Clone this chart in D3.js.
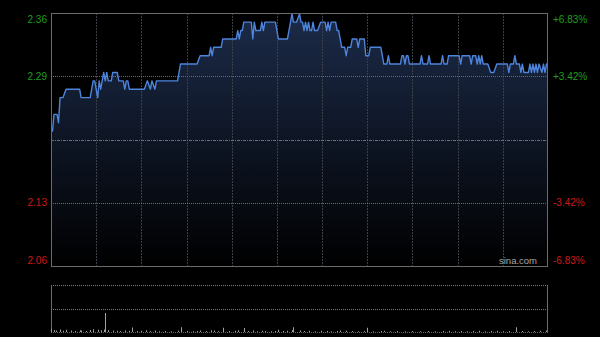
<!DOCTYPE html>
<html>
<head>
<meta charset="utf-8">
<script src="https://cdn.jsdelivr.net/npm/d3@7"></script>
<style>
  body { margin: 0; background: #000; }
  svg { display: block; }
</style>
</head>
<body>
<div id="chart"></div>
<script>
// minutes since 09:30 (HK session, 330 trading minutes) and last price
var minutes = [0, 1, 2, 4, 5, 6, 8, 10, 19, 20, 26, 28, 29, 31, 32, 33, 35, 36, 37, 38, 40, 41, 44, 45, 48, 49, 50, 51, 52, 62,
    64, 66, 67, 69, 70, 84, 86, 97, 99, 105, 106, 107, 108, 113, 114, 123, 124, 125, 126, 127, 128, 133, 134, 135, 136, 139, 140, 141, 142, 149,
    151, 157, 158, 160, 161, 163, 165, 166, 167, 168, 169, 170, 171, 172, 173, 174, 175, 177, 179, 182, 183, 184, 185, 186, 189, 190, 191, 192, 193, 195,
    196, 197, 199, 200, 203, 204, 205, 208, 209, 211, 212, 219, 220, 221, 223, 224, 225, 232, 233, 234, 235, 236, 237, 238, 245, 246, 247, 250, 251, 252,
    259, 260, 261, 263, 264, 271, 272, 273, 278, 279, 280, 282, 283, 284, 285, 286, 287, 290, 292, 294, 296, 303, 304, 305, 307, 308, 309, 311, 312, 313,
    314, 317, 318, 319, 320, 321, 322, 323, 324, 326, 327, 328, 329, 330];
var prices = [2.22, 2.22, 2.24, 2.24, 2.23, 2.26, 2.26, 2.27, 2.27, 2.26, 2.26, 2.28, 2.28, 2.26, 2.28, 2.27, 2.29, 2.28, 2.29, 2.28, 2.28, 2.29, 2.29, 2.28, 2.28, 2.27, 2.28, 2.28, 2.27, 2.27,
    2.28, 2.27, 2.28, 2.27, 2.28, 2.28, 2.30, 2.30, 2.31, 2.31, 2.32, 2.31, 2.32, 2.32, 2.33, 2.33, 2.34, 2.33, 2.34, 2.34, 2.35, 2.35, 2.33, 2.35, 2.34, 2.34, 2.35, 2.34, 2.35, 2.35,
    2.33, 2.33, 2.34, 2.36, 2.35, 2.35, 2.36, 2.35, 2.35, 2.34, 2.35, 2.34, 2.35, 2.34, 2.34, 2.35, 2.34, 2.34, 2.35, 2.35, 2.34, 2.35, 2.34, 2.35, 2.35, 2.34, 2.34, 2.33, 2.32, 2.32,
    2.31, 2.32, 2.32, 2.33, 2.33, 2.32, 2.33, 2.33, 2.31, 2.31, 2.32, 2.32, 2.31, 2.30, 2.30, 2.31, 2.30, 2.30, 2.31, 2.31, 2.30, 2.31, 2.31, 2.30, 2.30, 2.31, 2.30, 2.30, 2.31, 2.30,
    2.30, 2.31, 2.30, 2.30, 2.31, 2.31, 2.30, 2.31, 2.31, 2.30, 2.31, 2.31, 2.30, 2.31, 2.30, 2.31, 2.30, 2.30, 2.29, 2.29, 2.30, 2.30, 2.29, 2.30, 2.30, 2.31, 2.30, 2.30, 2.29, 2.30,
    2.29, 2.29, 2.30, 2.29, 2.30, 2.29, 2.30, 2.29, 2.30, 2.29, 2.30, 2.29, 2.30, 2.30];

// volume, thousand shares
var volMinutes = [0, 2, 3, 6, 8, 10, 13, 16, 19, 20, 23, 26, 28, 31, 33, 35, 36, 38, 41, 44, 46, 49, 52, 54, 57, 60, 63, 66, 69, 72,
    76, 80, 84, 86, 90, 94, 97, 99, 103, 106, 108, 111, 114, 118, 122, 124, 128, 131, 134, 137, 140, 142, 146, 149, 151, 154, 157, 160, 161, 165,
    168, 171, 175, 179, 183, 186, 190, 192, 196, 200, 204, 208, 210, 214, 219, 221, 225, 230, 235, 240, 245, 250, 255, 260, 264, 268, 272, 276, 280, 284,
    288, 292, 296, 300, 304, 309, 313, 317, 321, 325, 329];
var volumes = [60, 40, 30, 50, 25, 45, 30, 20, 35, 30, 20, 40, 55, 45, 35, 50, 380, 40, 30, 25, 20, 30, 25, 90, 20, 25, 35, 20, 30, 15,
    20, 15, 25, 95, 20, 15, 20, 30, 20, 35, 30, 15, 85, 20, 25, 35, 80, 20, 30, 15, 25, 20, 15, 20, 45, 20, 25, 40, 95, 30,
    20, 25, 15, 25, 20, 15, 20, 30, 25, 20, 15, 20, 85, 15, 20, 25, 15, 20, 15, 20, 15, 20, 15, 20, 25, 15, 20, 15, 20, 25,
    15, 20, 25, 15, 20, 95, 20, 15, 20, 25, 30];

var prevClose = 2.21;
var pctTicks = [0.0683, 0.0342, -0.0342, -0.0683];
var priceLabels = ["2.36", "2.29", "2.13", "2.06"];
var pctLabels = ["+6.83%", "+3.42%", "-3.42%", "-6.83%"];
var gridMinutes = [30, 60, 90, 120, 150, 180, 210, 240, 270, 300];

var svgWidth = 600;
var svgHeight = 337;
var left = 51, right = 548;
var top1 = 13, bottom1 = 266;
var top2 = 285, bottom2 = 332;
var green = "#1f9e1f", red = "#d01818";
var font = "Arial, 'Liberation Sans', sans-serif";

var svg = d3.select("#chart")
    .append("svg")
    .attr("width", svgWidth)
    .attr("height", svgHeight);

svg.append("rect").attr("width", svgWidth).attr("height", svgHeight).attr("fill", "#000");

var x = d3.scaleLinear().domain([0, 330]).range([left, right]);
var y = d3.scaleLinear()
    .domain([prevClose * (1 - 0.0683), prevClose * (1 + 0.0683)])
    .range([bottom1, top1]);
var yVol = d3.scaleLinear().domain([0, 940]).range([bottom2, top2]);

var defs = svg.append("defs");
var grad = defs.append("linearGradient")
    .attr("id", "areaFill")
    .attr("gradientUnits", "userSpaceOnUse")
    .attr("x1", 0).attr("y1", top1).attr("x2", 0).attr("y2", bottom1);
grad.append("stop").attr("offset", "0%").attr("stop-color", "#1c2b49");
grad.append("stop").attr("offset", "100%").attr("stop-color", "#000");

var pts = minutes.map(function(m, i) { return { t: m, p: prices[i] }; });

// area under price line
var area = d3.area()
    .x(d => x(d.t))
    .y0(bottom1)
    .y1(d => Math.max(y(d.p), top1 + 1));
svg.append("path")
    .datum(pts)
    .attr("d", area)
    .attr("fill", "url(#areaFill)");

// vertical grid
svg.append("g")
    .selectAll("line")
    .data(gridMinutes)
    .enter()
    .append("line")
    .attr("x1", d => Math.round(x(d)) + 0.5)
    .attr("x2", d => Math.round(x(d)) + 0.5)
    .attr("y1", top1)
    .attr("y2", bottom1)
    .attr("stroke", "#3b3f47")
    .attr("stroke-dasharray", "2,1");

// horizontal grid
svg.append("g")
    .selectAll("line")
    .data([0.0342, -0.0342])
    .enter()
    .append("line")
    .attr("x1", left)
    .attr("x2", right)
    .attr("y1", d => Math.round(y(prevClose * (1 + d))) + 0.5)
    .attr("y2", d => Math.round(y(prevClose * (1 + d))) + 0.5)
    .attr("stroke", "#6a6a6a")
    .attr("stroke-dasharray", "1,1");

svg.append("line")
    .attr("x1", left)
    .attr("x2", right)
    .attr("y1", Math.round(y(prevClose)) + 0.5)
    .attr("y2", Math.round(y(prevClose)) + 0.5)
    .attr("stroke", "#6a6f78")
    .attr("stroke-dasharray", "3,1,1,1");

// price line
var line = d3.line()
    .x(d => x(d.t))
    .y(d => Math.max(y(d.p), top1 + 1));
svg.append("path")
    .datum(pts)
    .attr("d", line)
    .attr("fill", "none")
    .attr("stroke", "#4d84dc")
    .attr("stroke-width", 1.4)
    .attr("stroke-linejoin", "round");

// frame
svg.append("rect")
    .attr("x", left + 0.5)
    .attr("y", top1 + 0.5)
    .attr("width", right - left - 1)
    .attr("height", bottom1 - top1)
    .attr("fill", "none")
    .attr("stroke", "#6b6b6b");

// labels
var labelY = [top1 + 10, null, null, bottom1 - 2];
pctTicks.forEach(function(d, i) {
    var yy = labelY[i] != null ? labelY[i] : y(prevClose * (1 + d)) + 3.5;
    var col = d > 0 ? green : red;
    svg.append("text")
        .attr("x", 47)
        .attr("y", yy)
        .attr("text-anchor", "end")
        .attr("font-family", font)
        .attr("font-size", "10px")
        .attr("fill", col)
        .text(priceLabels[i]);
    svg.append("text")
        .attr("x", 553)
        .attr("y", yy)
        .attr("font-family", font)
        .attr("font-size", "10px")
        .attr("fill", col)
        .text(pctLabels[i]);
});

svg.append("text")
    .attr("x", 537)
    .attr("y", bottom1 - 2)
    .attr("text-anchor", "end")
    .attr("font-family", font)
    .attr("font-size", "9.5px")
    .attr("fill", "#a8a8a8")
    .text("sina.com");

// volume panel
[top2, (top2 + bottom2) / 2].forEach(function(v) {
    svg.append("line")
        .attr("x1", left)
        .attr("x2", right)
        .attr("y1", Math.round(v) + 0.5)
        .attr("y2", Math.round(v) + 0.5)
        .attr("stroke", "#777")
        .attr("stroke-dasharray", "1,1");
});
svg.append("line")
    .attr("x1", left)
    .attr("x2", right)
    .attr("y1", bottom2 + 0.5)
    .attr("y2", bottom2 + 0.5)
    .attr("stroke", "#666")
    .attr("stroke-dasharray", "1,1");
[left + 0.5, right - 0.5].forEach(function(v) {
    svg.append("line")
        .attr("x1", v).attr("x2", v)
        .attr("y1", top2).attr("y2", bottom2 + 1)
        .attr("stroke", "#6b6b6b");
});

svg.append("g")
    .selectAll("rect")
    .data(volMinutes.map((m, i) => ({ t: m, v: volumes[i] })))
    .enter()
    .append("rect")
    .attr("x", d => Math.round(x(d.t)))
    .attr("y", d => yVol(d.v))
    .attr("width", 1)
    .attr("height", d => bottom2 - yVol(d.v))
    .attr("fill", "#a0a0a0");
</script>
</body>
</html>
